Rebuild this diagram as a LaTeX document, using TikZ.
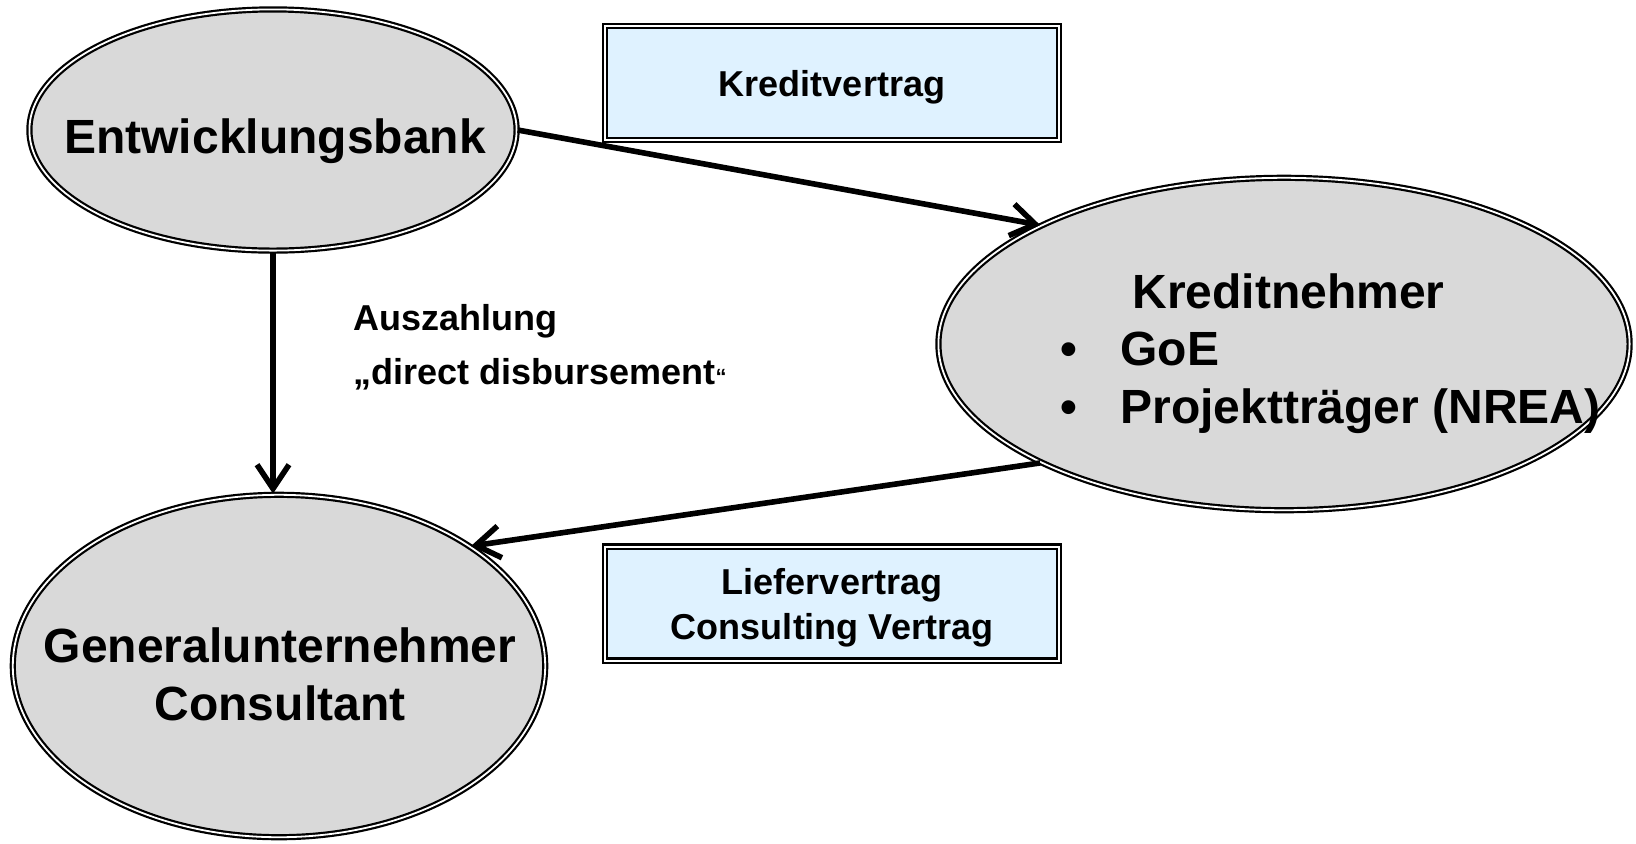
\documentclass[tikz,border=0pt]{standalone}
\usepackage{fontspec}
\setmainfont{Liberation Sans}
\usetikzlibrary{shapes.geometric,arrows.meta}
\definecolor{ovalgray}{RGB}{217,217,217}
\definecolor{boxblue}{RGB}{223,242,255}
\tikzset{
  gray oval/.style={
    ellipse,
    draw,
    fill=ovalgray,
    line width=1.1pt,
    double=white,
    double distance=0.9pt,
    inner sep=0pt,
  },
  blue box/.style={
    draw,
    fill=boxblue,
    line width=1.1pt,
    double=white,
    double distance=1pt,
    minimum width=226.8pt,
    minimum height=57pt,
    text depth=0pt,
    align=center,
    font=\fontsize{18}{22.5}\selectfont\bfseries,
  },
  big text/.style={
    anchor=base,
    inner sep=0pt,
    font=\fontsize{24}{29}\selectfont\bfseries,
  },
  small text/.style={
    anchor=base west,
    inner sep=0pt,
    align=left,
    font=\fontsize{18}{27}\selectfont\bfseries,
  },
  link/.style={
    -{Straight Barb[length=12pt,width=16pt]},
    line width=2.8pt,
  }
}

\begin{document}
\begin{tikzpicture}[x=0.5pt,y=-0.5pt]
        \useasboundingbox (0,0) rectangle (1636,843);

        % the three parties
        \node [gray oval, minimum width=243.6pt, minimum height=120.6pt] (bank) at (273,130) {};
        \node [gray oval, minimum width=345.6pt, minimum height=166.2pt] (borrower) at (1284,344) {};
        \node [gray oval, minimum width=266.2pt, minimum height=171.2pt] (contractor) at (279,666) {};

        \node [big text] (banklbl) at (275,153) {Entwicklungsbank};
        \node [big text, anchor=base west] (borrowerlbl) at (1132,308) {Kreditnehmer};
        \node [big text, anchor=base west] (goe) at (1060,365) {\makebox[30pt][l]{•}GoE};
        \node [big text, anchor=base west] (nrea) at (1060,423) {\makebox[30pt][l]{•}Projektträger (NREA)};
        \node [big text] (contractorlbl) at (280,662) {Generalunternehmer};
        \node [big text] (consultantlbl) at (280,720) {Consultant};

        % contracts
        \node [blue box] (loan) at (832,83) {Kreditvertrag};
        \node [blue box] (supply) at (832,603.5) {Liefervertrag\\Consulting Vertrag};

        \node [small text] (payout) at (353,384) {Auszahlung\\„direct disbursement{\fontsize{11}{11}\selectfont“}};

        \draw [link] (bank.east) -- (borrower.154);
        \draw [link] (bank.south) -- (bank.south |- contractor.north);
        \draw [link] (borrower.206) -- (contractor.32);
    \end{tikzpicture}
\end{document}
